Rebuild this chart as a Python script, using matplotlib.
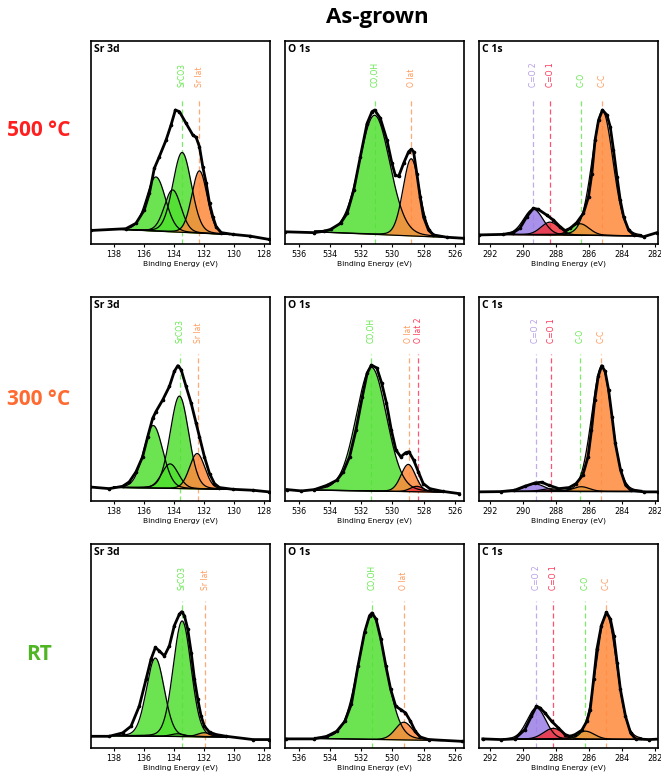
import numpy as np
import matplotlib.pyplot as plt

# ---- layout / labels ----
row_names = ['500 °C', '300 °C', 'RT']
row_colors = ['#ff1f1f', '#ff6a30', '#4fb524']
regions = ['Sr 3d', 'O 1s', 'C 1s']
xlims = [(139.5, 127.6), (536.9, 525.4), (292.7, 281.8)]
xticks = [[138, 136, 134, 132, 130, 128],
          [536, 534, 532, 530, 528, 526],
          [292, 290, 288, 286, 284, 282]]
fit_ranges = [(138.0, 130.3), (535.0, 526.8), (291.2, 282.8)]

# ---- measured envelopes (binding energy, intensity a.u.) ----
sr500_x = [139.51, 137.18, 136.51, 135.96, 135.62, 135.29, 134.96, 134.51, 134.18, 133.89,
           133.62, 133.18, 132.73, 132.51, 132.29, 132.07, 131.84, 131.62, 131.40, 131.18,
           130.84, 130.07, 128.96, 127.67]
sr500_y = [0.0, 0.013, 0.053, 0.151, 0.274, 0.459, 0.545, 0.668, 0.779, 0.890,
           0.878, 0.792, 0.705, 0.688, 0.619, 0.471, 0.348, 0.200, 0.102, 0.028,
           -0.016, -0.029, -0.041, -0.066]
o500_x = [536.87, 535.04, 534.40, 533.97, 533.33, 532.91, 532.48, 532.06, 531.63, 531.31,
          531.14, 530.78, 530.35, 530.03, 529.82, 529.60, 529.28, 528.96, 528.79, 528.64,
          528.43, 528.22, 528.00, 527.68, 527.36, 526.51, 525.38]
o500_y = [-0.01, -0.016, -0.006, 0.008, 0.053, 0.127, 0.30, 0.545, 0.79, 0.878,
          0.89, 0.83, 0.668, 0.496, 0.41, 0.40, 0.496, 0.582, 0.60, 0.582,
          0.42, 0.25, 0.10, 0.003, -0.033, -0.05, -0.058]
c500_x = [292.71, 291.23, 290.62, 290.21, 289.80, 289.39, 289.09, 288.58, 288.17, 287.76,
          287.46, 287.15, 286.75, 286.34, 286.03, 285.83, 285.63, 285.42, 285.18, 284.91,
          284.71, 284.51, 284.30, 284.10, 283.89, 283.59, 283.28, 282.67, 281.86]
c500_y = [-0.033, -0.029, -0.016, 0.016, 0.10, 0.164, 0.156, 0.114, 0.077, 0.028,
          -0.001, 0.016, 0.058, 0.127, 0.25, 0.42, 0.668, 0.816, 0.89, 0.853,
          0.767, 0.595, 0.398, 0.225, 0.10, 0.003, -0.033, -0.046, -0.016]

sr300_x = [139.56, 138.29, 137.40, 136.96, 136.51, 136.07, 135.73, 135.40, 135.18, 134.73,
           134.29, 133.96, 133.73, 133.51, 133.18, 132.84, 132.51, 132.29, 131.96, 131.62,
           131.29, 130.96, 130.07, 128.73, 127.67]
sr300_y = [0.003, -0.009, 0.008, 0.04, 0.114, 0.225, 0.373, 0.508, 0.558, 0.644,
           0.742, 0.853, 0.895, 0.866, 0.742, 0.619, 0.471, 0.373, 0.225, 0.102,
           0.028, -0.001, -0.014, -0.021, -0.033]
o300_x = [536.78, 535.84, 535.01, 534.19, 533.57, 533.16, 532.75, 532.34, 531.93, 531.62,
          531.35, 531.00, 530.69, 530.38, 530.07, 529.77, 529.46, 529.15, 528.94, 528.63,
          528.33, 528.02, 527.60, 526.78, 525.69]
o300_y = [-0.016, -0.026, -0.016, 0.016, 0.053, 0.114, 0.225, 0.422, 0.668, 0.84,
          0.90, 0.878, 0.767, 0.619, 0.422, 0.274, 0.225, 0.255, 0.262, 0.20,
          0.114, 0.028, -0.009, -0.029, -0.046]
c300_x = [292.8, 291.38, 290.54, 289.92, 289.29, 288.88, 288.46, 287.83, 287.21, 286.79,
          286.38, 286.06, 285.85, 285.65, 285.44, 285.23, 285.02, 284.81, 284.60, 284.40,
          284.08, 283.77, 283.46, 282.63, 281.79]
c300_y = [-0.033, -0.031, -0.021, 0.008, 0.033, 0.038, 0.016, -0.009, -0.001, 0.028,
          0.09, 0.225, 0.422, 0.644, 0.816, 0.895, 0.853, 0.718, 0.521, 0.324,
          0.127, 0.016, -0.021, -0.033, -0.033]

srrt_x = [139.56, 138.29, 137.40, 136.84, 136.29, 135.84, 135.51, 135.22, 134.96, 134.62,
          134.29, 133.96, 133.62, 133.47, 133.29, 133.07, 132.84, 132.62, 132.40, 132.18,
          131.96, 131.62, 131.18, 130.51, 128.73, 127.67]
srrt_y = [-0.014, -0.014, 0.011, 0.06, 0.208, 0.405, 0.553, 0.639, 0.614, 0.577,
          0.651, 0.80, 0.885, 0.902, 0.873, 0.774, 0.602, 0.405, 0.257, 0.134,
          0.06, 0.016, -0.001, -0.014, -0.038, -0.038]
ort_x = [536.86, 535.05, 534.21, 533.58, 533.05, 532.63, 532.21, 531.79, 531.47, 531.31,
         531.05, 530.74, 530.42, 530.11, 529.79, 529.47, 529.16, 528.84, 528.53, 528.21,
         527.68, 525.52]
ort_y = [-0.033, -0.033, -0.014, 0.023, 0.097, 0.225, 0.503, 0.75, 0.873, 0.893,
         0.848, 0.70, 0.503, 0.331, 0.208, 0.183, 0.159, 0.097, 0.023, -0.019,
         -0.038, -0.051]
crt_x = [292.47, 291.35, 290.53, 289.91, 289.51, 289.20, 288.99, 288.69, 288.28, 287.87,
         287.46, 287.15, 286.85, 286.44, 286.13, 285.93, 285.72, 285.52, 285.25, 284.94,
         284.70, 284.49, 284.29, 284.09, 283.78, 283.47, 283.17, 282.35, 281.53]
crt_y = [-0.033, -0.038, -0.033, 0.035, 0.134, 0.208, 0.195, 0.159, 0.097, 0.048,
         -0.001, -0.014, -0.001, 0.031, 0.097, 0.183, 0.405, 0.626, 0.80, 0.898,
         0.848, 0.725, 0.528, 0.331, 0.134, 0.011, -0.033, -0.038, -0.033]

# ---- background end values (left, right of fit range) ----
backgrounds = [[(0.01, -0.03), (-0.01, -0.05), (-0.03, -0.04)],
               [(0.0, -0.015), (-0.02, -0.035), (-0.03, -0.03)],
               [(-0.01, -0.02), (-0.03, -0.045), (-0.035, -0.037)]]

# ---- fitted components: (species, centre eV, height, fwhm eV) ----
sr500_comp = [('SrCO3 3d3/2', 135.18, 0.40, 1.5), ('Sr lat 3d3/2', 134.07, 0.31, 1.3),
              ('SrCO3 3d5/2', 133.44, 0.59, 1.45), ('Sr lat 3d5/2', 132.29, 0.46, 1.2)]
o500_comp = [('CO,OH', 531.14, 0.88, 2.3), ('O lat', 528.79, 0.57, 1.25)]
c500_comp = [('C=O 2', 289.39, 0.19, 1.4), ('C=O 1', 288.37, 0.095, 1.3),
             ('C-O', 286.54, 0.085, 1.3), ('C-C', 285.18, 0.92, 1.5)]
sr300_comp = [('SrCO3 3d3/2', 135.36, 0.46, 1.5), ('Sr lat 3d3/2', 134.24, 0.18, 1.3),
              ('SrCO3 3d5/2', 133.62, 0.68, 1.45), ('Sr lat 3d5/2', 132.44, 0.26, 1.2)]
o300_comp = [('CO,OH', 531.35, 0.91, 2.3), ('O lat', 528.98, 0.20, 1.1),
             ('O lat 2', 528.43, 0.04, 1.0)]
c300_comp = [('C=O 2', 289.29, 0.055, 1.4), ('C=O 1', 288.35, 0.02, 1.3),
             ('C-O', 286.48, 0.035, 1.2), ('C-C', 285.23, 0.92, 1.45)]
srrt_comp = [('SrCO3 3d3/2', 135.22, 0.575, 1.4), ('Sr lat 3d3/2', 133.73, 0.02, 1.1),
             ('SrCO3 3d5/2', 133.44, 0.85, 1.4), ('Sr lat 3d5/2', 131.96, 0.03, 1.1)]
ort_comp = [('CO,OH', 531.31, 0.91, 2.1), ('O lat', 529.26, 0.13, 1.3)]
crt_comp = [('C=O 2', 289.20, 0.23, 1.35), ('C=O 1', 288.18, 0.08, 1.4),
            ('C-O', 286.23, 0.06, 1.3), ('C-C', 284.94, 0.92, 1.45)]

# ---- peak position markers ----
sr500_marks = [('SrCO3', 133.45), ('Sr lat', 132.3)]
o500_marks = [('CO,OH', 531.1), ('O lat', 528.8)]
c500_marks = [('C=O 2', 289.39), ('C=O 1', 288.37), ('C-O', 286.5), ('C-C', 285.18)]
sr300_marks = [('SrCO3', 133.58), ('Sr lat', 132.38)]
o300_marks = [('CO,OH', 531.39), ('O lat', 528.94), ('O lat 2', 528.33)]
c300_marks = [('C=O 2', 289.23), ('C=O 1', 288.29), ('C-O', 286.52), ('C-C', 285.27)]
srrt_marks = [('SrCO3', 133.47), ('Sr lat', 131.89)]
ort_marks = [('CO,OH', 531.31), ('O lat', 529.26)]
crt_marks = [('C=O 2', 289.20), ('C=O 1', 288.18), ('C-O', 286.23), ('C-C', 284.96)]

spectra = [[(sr500_x, sr500_y), (o500_x, o500_y), (c500_x, c500_y)],
           [(sr300_x, sr300_y), (o300_x, o300_y), (c300_x, c300_y)],
           [(srrt_x, srrt_y), (ort_x, ort_y), (crt_x, crt_y)]]
components = [[sr500_comp, o500_comp, c500_comp],
              [sr300_comp, o300_comp, c300_comp],
              [srrt_comp, ort_comp, crt_comp]]
marks = [[sr500_marks, o500_marks, c500_marks],
         [sr300_marks, o300_marks, c300_marks],
         [srrt_marks, ort_marks, crt_marks]]

GREEN = '#52e032'
ORANGE = '#ff8a3c'
PURPLE = '#9a7de6'
RED = '#f0323c'
fill_colors = {'SrCO3 3d3/2': GREEN, 'Sr lat 3d3/2': GREEN, 'SrCO3 3d5/2': GREEN,
               'Sr lat 3d5/2': ORANGE, 'CO,OH': GREEN, 'O lat': ORANGE, 'O lat 2': RED,
               'C=O 2': PURPLE, 'C=O 1': RED, 'C-O': GREEN, 'C-C': ORANGE}
mark_colors = {'SrCO3': '#66e84e', 'Sr lat': '#ff9a5c', 'CO,OH': '#66e84e',
               'O lat': '#ff9a5c', 'O lat 2': '#ff3a55', 'C=O 2': '#b59ce8',
               'C=O 1': '#ff3355', 'C-O': '#66e84e', 'C-C': '#ff9a5c'}


def pvoigt(x, c, h, w, eta=0.1):
    g = np.exp(-4 * np.log(2) * ((x - c) / w) ** 2)
    l = 1 / (1 + 4 * ((x - c) / w) ** 2)
    return h * (eta * l + (1 - eta) * g)


W, H = 661, 775
fig = plt.figure(figsize=(W / 100, H / 100), dpi=100)

col_left = [91, 285, 479]
ax_w = 179
row_top = [41, 297, 544]
row_bot = [244, 501, 748]
YLIM = (-0.1, 1.4)

for r in range(3):
    for c in range(3):
        ax = fig.add_axes([col_left[c] / W, 1 - row_bot[r] / H, ax_w / W,
                           (row_bot[r] - row_top[r]) / H])
        lo, hi = fit_ranges[c]
        x = np.linspace(lo, hi, 400)
        bl, br = backgrounds[r][c]
        bg = bl + (br - bl) * (lo - x) / (lo - hi)
        for name, cen, h, w in components[r][c]:
            y = bg + pvoigt(x, cen, h, w)
            ax.fill_between(x, bg, y, color=fill_colors[name], alpha=0.85, lw=0, zorder=2)
            ax.plot(x, y, color='black', lw=0.9, zorder=3)
        ax.plot(x, bg, color='black', lw=0.9, zorder=3)

        sx, sy = spectra[r][c]
        ax.plot(sx, sy, color='black', lw=2.0, zorder=4)
        ax.plot(sx, sy, 'o', color='black', ms=1.6, zorder=5)

        for name, pos in marks[r][c]:
            col = mark_colors[name]
            ax.plot([pos, pos], [YLIM[0], 0.98], ls=(0, (4, 2.5)), color=col, lw=0.9,
                    alpha=0.85, zorder=1)
            ax.text(pos, 1.06, name, rotation=90, ha='center', va='bottom',
                    color=col, fontsize=5.5)

        ax.set_xlim(*xlims[c])
        ax.set_ylim(*YLIM)
        ax.set_xticks(xticks[c])
        ax.set_yticks([])
        ax.tick_params(axis='x', labelsize=5.8, length=2, width=0.8, pad=2)
        ax.set_xlabel('Binding Energy (eV)', fontsize=5.4, labelpad=1.5)
        for s in ax.spines.values():
            s.set_linewidth(1.2)
        ax.text(0.015, 0.985, regions[c], transform=ax.transAxes, ha='left', va='top',
                fontsize=7.5, fontweight='bold', family='Open Sans')

    fig.text(39 / W, 1 - [130, 399, 655][r] / H, row_names[r], ha='center', va='center',
             color=row_colors[r], fontsize=15, fontweight='bold', family='Open Sans')

fig.text(377 / W, 1 - 17 / H, 'As-grown', ha='center', va='center', fontsize=16,
         fontweight='bold', family='Open Sans')

fig.savefig('out.png', dpi=100)
